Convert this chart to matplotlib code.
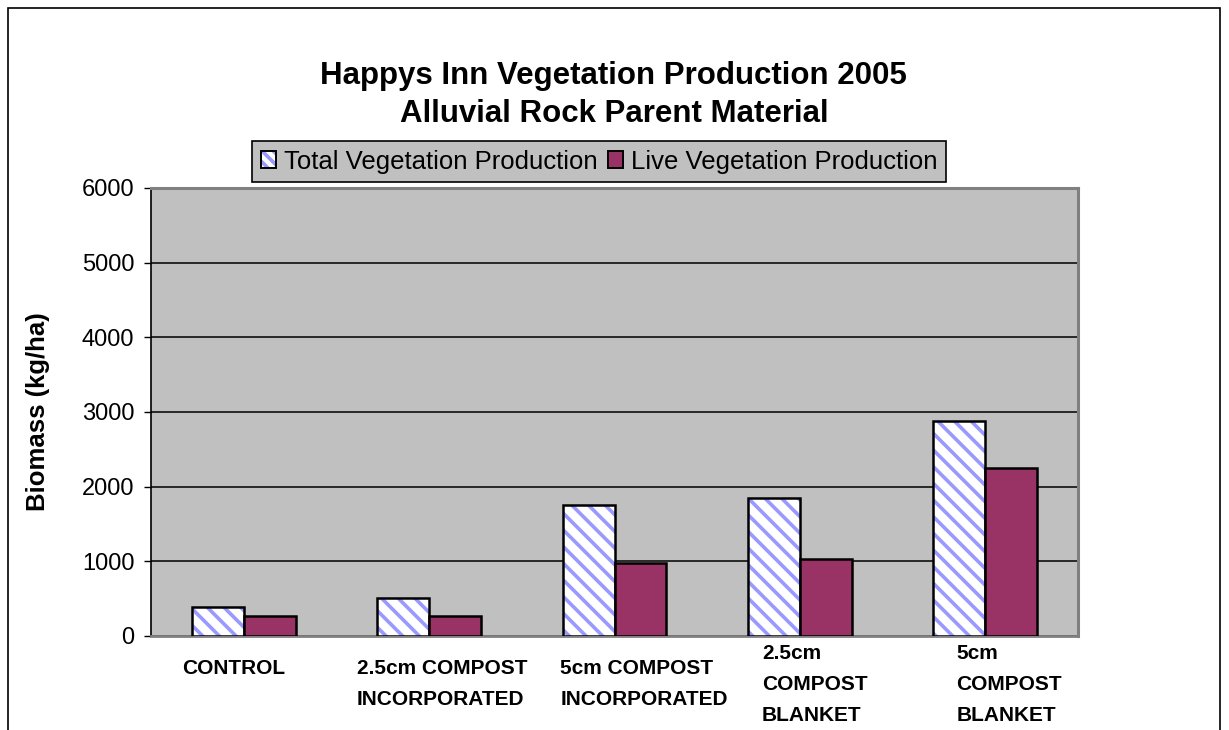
import matplotlib
matplotlib.use("Agg")
import matplotlib.pyplot as plt
import numpy as np
from matplotlib.patches import Rectangle, Patch
from matplotlib.legend_handler import HandlerTuple

categories = ["CONTROL", "2.5cm COMPOST\nINCORPORATED", "5cm COMPOST\nINCORPORATED",
              "2.5cm\nCOMPOST\nBLANKET", "5cm\nCOMPOST\nBLANKET"]
total_veg = [395, 505, 1750, 1848, 2880]
live_veg = [265, 265, 977, 1030, 2252]
yticks = [0, 1000, 2000, 3000, 4000, 5000, 6000]

plt.rcParams['font.family'] = ['Liberation Sans', 'DejaVu Sans']
plt.rcParams['hatch.linewidth'] = 2.6

fig = plt.figure(figsize=(12.29, 7.30), dpi=100)
ax = fig.add_axes([151/1229, 1-636/730, (1078-151)/1229, (636-188)/730])
ax.set_facecolor('#C0C0C0')

x = np.arange(len(categories))
w = 0.28
hatch_pat = '\\\\'
ax.bar(x - w/2, total_veg, w, color='white', edgecolor='#9999FF', hatch=hatch_pat, linewidth=0, zorder=3)
ax.bar(x - w/2, total_veg, w, fill=False, edgecolor='black', linewidth=1.8, zorder=4)
ax.bar(x + w/2, live_veg, w, color='#993366', edgecolor='black', linewidth=1.8, zorder=4)

ax.set_xlim(-0.5, len(categories) - 0.5)
ax.set_ylim(0, 6000)
ax.set_yticks(yticks)
ax.set_yticklabels([str(v) for v in yticks], fontsize=17)
ax.tick_params(axis='y', length=5, width=1, color='black', pad=7, direction='out')
ax.set_xticks([])
ax.yaxis.grid(True, color='black', linewidth=1.1, zorder=1)
ax.set_axisbelow(True)

for s in ['top', 'right']:
    ax.spines[s].set_color('#808080')
    ax.spines[s].set_linewidth(2.2)
ax.spines['bottom'].set_color('#808080')
ax.spines['bottom'].set_linewidth(2)
ax.spines['left'].set_color('black')
ax.spines['left'].set_linewidth(1.2)

ax.set_ylabel("Biomass (kg/ha)", fontsize=18.5, fontweight='bold')
ax.yaxis.set_label_coords(-0.109, 0.5)

label_dx = [-0.055, 0.07, 0.16, 0.08, 0.13]
label_y = [-0.052, -0.052, -0.052, -0.018, -0.018]
for i, lab in enumerate(categories):
    ax.text(i + label_dx[i], label_y[i], lab, transform=ax.get_xaxis_transform(),
            ha='center', va='top', multialignment='left', fontsize=15,
            fontweight='bold', linespacing=1.8)

fig.text(0.4995, 1-84/730, "Happys Inn Vegetation Production 2005", ha='center', va='baseline',
         fontsize=22.5, fontweight='bold')
fig.text(0.4995, 1-122/730, "Alluvial Rock Parent Material", ha='center', va='baseline',
         fontsize=22.5, fontweight='bold')

h1a = Patch(facecolor='white', edgecolor='#9999FF', hatch='\\\\\\', linewidth=0)
h1b = Patch(facecolor='none', edgecolor='black', linewidth=1.4)
h2 = Patch(facecolor='#993366', edgecolor='black', linewidth=1.4)
leg = fig.legend([(h1a, h1b), h2], ["Total Vegetation Production", "Live Vegetation Production"],
                 handler_map={tuple: HandlerTuple(ndivide=1, pad=0)},
                 loc='center', bbox_to_anchor=(599/1229, 1-161.5/730), ncol=2,
                 fontsize=18.5, frameon=True, fancybox=False, handlelength=0.6,
                 handleheight=0.6, handletextpad=0.3, columnspacing=0.4,
                 borderpad=0.35, borderaxespad=0)
leg.get_frame().set_facecolor('#C0C0C0')
leg.get_frame().set_edgecolor('black')
leg.get_frame().set_linewidth(1.2)
leg.get_frame().set_alpha(1)

fig.patches.append(Rectangle((8/1229, -0.05), (1220-8)/1229, 1.05 - 8/730,
                             transform=fig.transFigure, fill=False,
                             edgecolor='black', linewidth=1.2))

fig.savefig("out.png", dpi=100)
